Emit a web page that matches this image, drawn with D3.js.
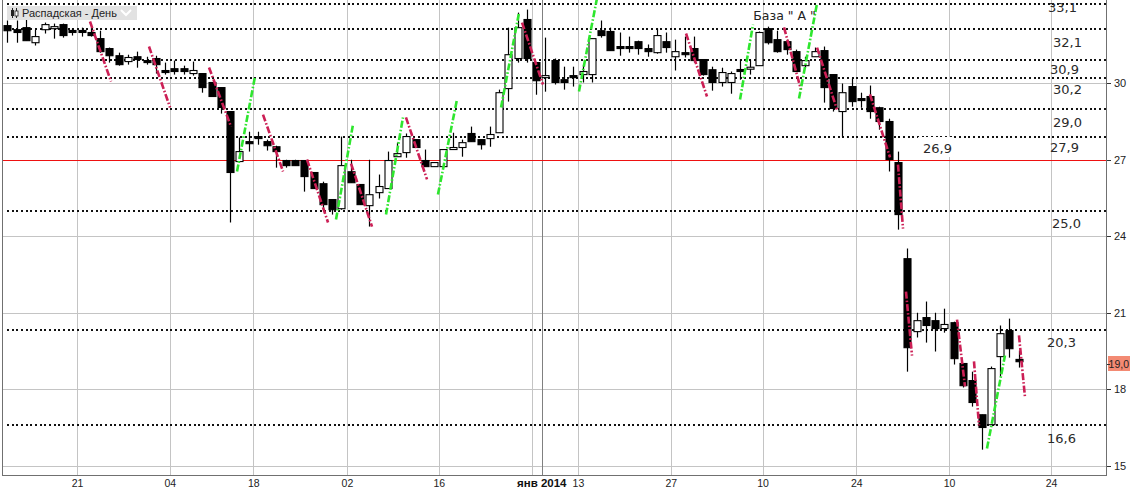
<!DOCTYPE html>
<html><head><meta charset="utf-8">
<script src="https://cdn.jsdelivr.net/npm/d3@7"></script>
<style>body{margin:0;background:#fff}svg{display:block}</style>
</head><body><svg id="c" width="1130" height="490"></svg>
<script>
// ---- data ----
const open  = [32.25,32.09,32.17,31.58,32.09,32.13,32.29,32.03,32.03,31.98,31.74,31.35,31.07,30.84,31.03,30.85,30.96,30.46,30.56,30.56,
30.37,30.37,30.02,29.82,28.88,26.92,27.70,27.90,27.70,27.50,26.96,26.96,26.96,26.49,26.05,25.43,25.07,26.52,26.02,25.19,
25.70,25.86,27.11,27.27,27.78,26.96,26.72,26.72,27.39,27.47,28.02,27.78,27.82,28.05,29.78,30.96,32.49,30.80,30.21,30.88,
30.13,30.26,30.33,30.33,32.05,32.02,31.40,31.40,31.62,31.35,31.19,31.62,31.03,31.16,31.35,30.92,30.52,30.02,30.02,30.50,
30.56,30.68,32.13,31.70,31.62,31.23,30.68,31.03,31.27,30.33,28.88,29.86,29.36,29.47,29.03,28.49,26.88,23.11,20.25,20.80,
20.68,20.37,20.60,19.00,18.33,16.99,16.60,19.27,20.29,19.16];
const high  = [32.45,32.45,32.49,32.09,32.37,32.33,32.33,32.13,32.17,32.17,32.05,31.39,31.19,31.11,31.23,31.03,31.07,30.80,30.88,30.68,
30.84,30.37,30.02,29.82,28.88,27.86,28.09,28.09,27.78,27.54,26.99,26.99,26.96,26.49,26.13,25.43,27.90,26.99,26.02,26.99,
26.41,27.31,27.66,28.02,27.78,27.39,26.88,27.39,28.05,27.78,28.29,27.78,28.29,29.74,32.17,32.76,32.88,30.80,31.78,30.96,
30.64,30.64,30.72,31.74,32.45,32.17,31.98,31.82,31.66,31.51,32.13,31.98,31.70,31.82,31.82,30.92,30.64,30.60,30.45,30.92,
30.92,32.02,32.21,32.05,31.70,31.31,31.03,31.39,31.43,30.33,29.98,30.17,29.62,29.90,29.07,28.60,27.31,23.51,20.99,21.43,
20.99,21.15,20.64,19.00,18.68,16.99,18.88,20.49,20.76,19.51];
const low   = [31.58,31.58,31.66,31.47,31.94,31.74,31.78,31.86,31.82,31.82,31.19,30.80,30.68,30.72,30.60,30.72,30.37,30.33,30.33,30.33,
30.29,29.62,29.47,28.80,24.53,26.88,27.31,27.58,27.35,26.68,26.68,26.76,25.74,25.86,25.03,24.84,25.03,26.09,25.23,24.37,
25.47,25.86,27.11,27.07,27.47,26.72,26.72,26.72,27.39,27.11,27.70,27.39,27.50,28.05,29.27,30.80,30.80,29.54,29.66,29.94,
29.74,29.86,30.02,30.02,31.78,31.27,31.07,31.19,31.11,31.03,31.15,31.19,30.49,31.00,30.80,30.29,29.70,29.86,29.58,30.13,
30.33,30.68,31.51,31.19,31.11,30.45,30.60,31.03,29.23,28.88,27.90,29.07,29.03,28.60,28.17,26.53,24.25,18.68,20.02,19.82,
19.47,20.21,18.96,18.06,17.31,15.62,16.60,18.49,19.23,18.84];
const close = [32.05,31.98,31.66,31.82,32.29,32.21,31.86,32.01,32.01,31.86,31.23,31.07,30.72,31.00,30.92,30.83,30.72,30.44,30.45,30.45,
30.49,29.82,29.47,29.04,26.49,27.31,27.62,27.82,27.54,27.31,26.76,26.76,26.33,25.86,25.23,25.03,26.76,26.09,25.23,25.62,
25.94,26.96,27.23,27.90,27.47,26.72,26.88,27.39,27.47,27.66,27.70,27.58,27.98,29.62,31.11,32.17,30.96,30.09,30.29,30.02,
30.02,30.24,30.45,31.74,31.86,31.27,31.38,31.38,31.35,31.23,31.86,31.39,31.23,31.14,30.88,30.33,30.02,30.41,30.37,30.48,
30.60,31.98,31.58,31.23,31.31,30.45,30.88,31.23,29.82,29.00,29.62,29.27,29.34,28.88,28.49,27.00,24.84,19.62,20.68,20.49,
20.37,20.53,19.19,18.13,17.47,16.49,18.80,20.17,19.58,19.07];

const levels      = [33.1, 32.1, 30.9, 30.2, 29.0, 27.9, 25.0, 20.3, 16.6];
const levelLabels = ["33,1","32,1","30,9","30,2","29,0","27,9","25,0","20,3","16,6"];
const redLevel = 26.97, redLabel = "26,9";

const yTicks = [15, 18, 21, 24, 27, 30];
const xTickPos    = [7.5, 17.5, 26.5, 36.6, 46.5, 56.5, 61.5, 71.5, 81.4, 91.5, 101.5, 112.5];
const xTickLabels = ["21","04","18","02","16","","13","27","10","24","10","24"];
const yearPos = 57.6, yearLabel = "янв 2014";
const lastPrice = 19.0, lastLabel = "19,0";
const title = "Распадская - День";
const note = "База \" А \"";

// wave segments [index1, value1, index2, value2]
const downLines = [
 [8.90,32.41,11.17,30.06],[15.26,31.43,17.53,29.04],[21.73,30.61,24.10,28.29],[27.55,28.76,29.71,26.53],
 [32.29,27.00,34.56,24.53],[37.04,26.84,39.30,24.37],[42.96,28.65,45.23,26.22],[55.47,32.37,57.73,29.94],
 [73.15,31.94,75.41,29.47],[83.71,32.18,85.54,29.74],[87.27,31.39,89.42,28.96],[92.98,29.55,95.14,27.08],
 [96.00,26.80,96.54,24.29],[96.86,21.82,97.51,19.31],[102.36,20.72,103.22,18.10],[104.19,19.08,104.73,16.57],
 [109.04,20.10,109.69,17.67]];
const upLines = [
 [24.75,26.53,26.69,30.26],[35.42,24.65,37.25,28.37],[40.81,24.84,42.64,28.65],[46.41,25.63,48.46,29.35],
 [53.21,29.04,55.15,32.76],[61.61,29.67,63.70,33.60],[78.97,29.35,80.37,32.29],[85.33,29.39,87.27,33.12],
 [105.59,15.67,107.53,19.31]];

// ---- layout ----
const L = 2, R = 1106, T = 0, B = 475;
const labelDy = [8, 18, 14, 16, 18, 15, 17, 17, 18];
const labelX  = [1048,1053,1050,1053,1053,1050,1052,1047,1047];

const svg = d3.select("#c");
const x = d3.scaleLinear().domain([0, 109]).range([7.42, 7.42 + 9.277 * 109]);
const y = d3.scaleLinear().domain([15, 30]).range([465.5, 83]);
const FONT = "'DejaVu Sans', sans-serif";
const AXF = "'Liberation Sans', Arial, sans-serif";

svg.append("defs").append("clipPath").attr("id","clip")
  .append("rect").attr("x",L).attr("y",T).attr("width",R-L).attr("height",B-T);

const g = svg.append("g").attr("clip-path","url(#clip)");

// grid
g.selectAll(".hg").data(yTicks).join("line")
  .attr("x1",L).attr("x2",R).attr("y1",d=>Math.round(y(d))+0.5).attr("y2",d=>Math.round(y(d))+0.5)
  .attr("stroke","#c4c4c4").attr("stroke-width",1);
g.selectAll(".vg").data(xTickPos).join("line")
  .attr("x1",d=>Math.round(x(d))+0.5).attr("x2",d=>Math.round(x(d))+0.5).attr("y1",T).attr("y2",B)
  .attr("stroke","#c4c4c4").attr("stroke-width",1);
g.append("line").attr("x1",Math.round(x(yearPos))+0.5).attr("x2",Math.round(x(yearPos))+0.5)
  .attr("y1",T).attr("y2",B).attr("stroke","#808080").attr("stroke-width",1);

// dotted levels (crisp 2px dots)
g.selectAll(".lv").data(levels).join("line")
  .attr("x1",L+5).attr("x2",R).attr("y1",d=>Math.round(y(d))).attr("y2",d=>Math.round(y(d)))
  .attr("stroke","#111").attr("stroke-width",2).attr("stroke-dasharray","2,3,2,2,2,3")
  .attr("shape-rendering","crispEdges");

// red level
g.append("line").attr("x1",L).attr("x2",R).attr("y1",Math.round(y(redLevel))+0.5).attr("y2",Math.round(y(redLevel))+0.5)
  .attr("stroke","#ee1111").attr("stroke-width",1.2);

// candles
const idx = d3.range(open.length);
g.selectAll(".wick").data(idx).join("line")
  .attr("x1",i=>Math.round(x(i))+0.5).attr("x2",i=>Math.round(x(i))+0.5)
  .attr("y1",i=>y(high[i])).attr("y2",i=>y(low[i]))
  .attr("stroke","#000").attr("stroke-width",1.2);
g.selectAll(".body").data(idx).join("rect")
  .attr("x",i=>Math.round(x(i))-3)
  .attr("width",7)
  .attr("y",i=>{const t=y(Math.max(open[i],close[i])), b=y(Math.min(open[i],close[i])); return (b-t<2)?(t+b)/2-1:t;})
  .attr("height",i=>Math.max(2, Math.abs(y(open[i])-y(close[i]))))
  .attr("fill",i=>close[i]>open[i]?"#fff":"#000")
  .attr("stroke","#000").attr("stroke-width",1.1);

// wave lines
function wave(data, color){
  g.selectAll(null).data(data).join("line")
   .attr("x1",d=>x(d[0])).attr("y1",d=>y(d[1])).attr("x2",d=>x(d[2])).attr("y2",d=>y(d[3]))
   .attr("stroke",color).attr("stroke-width",2.6).attr("stroke-dasharray","7,2,1.6,2");
}
wave(downLines, "#cc1f55");
wave(upLines, "#2ee62e");

// level labels
svg.selectAll(".ll").data(levels).join("text")
  .attr("x",(d,i)=>labelX[i]).attr("y",(d,i)=>Math.round(y(d))+labelDy[i])
  .attr("font-family",FONT).attr("font-size",13).attr("fill","#2a2a2a")
  .text((d,i)=>levelLabels[i]);

// red label with white box
const rl = svg.append("g").attr("transform",`translate(${x(98.7)},${Math.round(y(redLevel))})`);
rl.append("rect").attr("x",-5).attr("y",-23).attr("width",36).attr("height",20).attr("fill","#fff");
rl.append("text").attr("x",0).attr("y",-7).attr("font-family",FONT).attr("font-size",13).attr("fill","#2a2a2a").text(redLabel);

// note
svg.append("text").attr("x",x(80.4)).attr("y",y(32.49)).attr("font-family",FONT).attr("font-size",12.5)
  .attr("fill","#222").text(note);

// frame
svg.append("line").attr("x1",L+0.5).attr("x2",L+0.5).attr("y1",0).attr("y2",B).attr("stroke","#707070");
svg.append("line").attr("x1",R+0.5).attr("x2",R+0.5).attr("y1",0).attr("y2",B).attr("stroke","#707070");
svg.append("line").attr("x1",L).attr("x2",R+1).attr("y1",B+0.5).attr("y2",B+0.5).attr("stroke","#707070");

// right axis
const ra = svg.append("g");
ra.selectAll("line").data(yTicks).join("line")
  .attr("x1",R+1).attr("x2",R+5).attr("y1",d=>Math.round(y(d))+0.5).attr("y2",d=>Math.round(y(d))+0.5)
  .attr("stroke","#333");
ra.selectAll("text").data(yTicks).join("text")
  .attr("x",R+8).attr("y",d=>y(d)+4).attr("font-family",AXF).attr("font-size",11).attr("fill","#222")
  .text(d=>d);

// last price marker
const lp = svg.append("g");
lp.append("rect").attr("x",R+2).attr("y",Math.round(y(lastPrice))-8).attr("width",30).attr("height",15).attr("fill","#f38a73");
lp.append("line").attr("x1",R+1).attr("x2",R+4).attr("y1",Math.round(y(lastPrice))+0.5).attr("y2",Math.round(y(lastPrice))+0.5).attr("stroke","#333");
lp.append("text").attr("x",1129).attr("y",y(lastPrice)+4).attr("text-anchor","end")
  .attr("font-family",AXF).attr("font-size",10.5).attr("fill","#222").text(lastLabel);

// bottom axis labels
svg.selectAll(".xl").data(xTickPos).join("text")
  .attr("x",d=>x(d)+0.5).attr("y",487).attr("text-anchor","middle")
  .attr("font-family",AXF).attr("font-size",10.5).attr("fill","#222")
  .text((d,i)=>xTickLabels[i]);
svg.append("text").attr("x",x(yearPos)).attr("y",487).attr("text-anchor","middle")
  .attr("font-family",AXF).attr("font-size",11.5).attr("font-weight","bold").attr("fill","#111").text(yearLabel);

// title box
const tb = svg.append("g");
tb.append("rect").attr("x",7).attr("y",6).attr("width",130).attr("height",14).attr("fill","#e2e2e2");
tb.append("line").attr("x1",12.5).attr("x2",12.5).attr("y1",8).attr("y2",18).attr("stroke","#222");
tb.append("rect").attr("x",11).attr("y",10).attr("width",3).attr("height",6).attr("fill","#222");
tb.append("line").attr("x1",16.5).attr("x2",16.5).attr("y1",8).attr("y2",18).attr("stroke","#222");
tb.append("rect").attr("x",15).attr("y",11).attr("width",3).attr("height",5).attr("fill","#fff").attr("stroke","#222").attr("stroke-width",0.8);
tb.append("text").attr("x",22).attr("y",17).attr("font-family",AXF).attr("font-size",11).attr("fill","#222").text(title);
tb.append("polyline").attr("points","121,10 126,15 131,10").attr("fill","none").attr("stroke","#fff").attr("stroke-width",2);
</script></body></html>
